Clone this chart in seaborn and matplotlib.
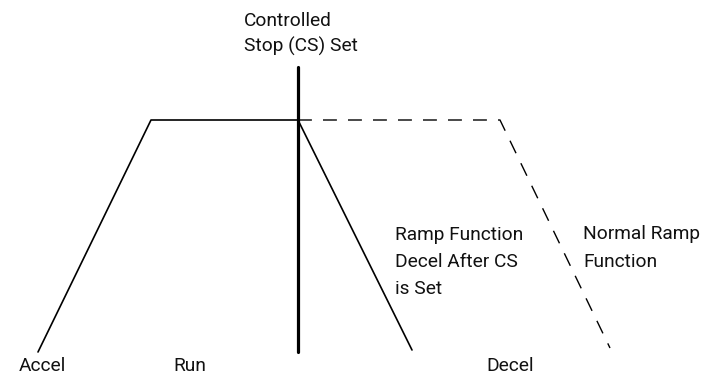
import pandas as pd
import matplotlib.pyplot as plt
import seaborn as sns

# Perfil de velocidad (x = tiempo, y = altura en px del dibujo original)
solid_x = [38, 151, 298, 412]
solid_y = [352, 120, 120, 350]
normal_x = [298, 500, 610]
normal_y = [120, 120, 348]
cs_x = [298, 298]
cs_y = [67, 352]

phase_labels = ["Accel", "Run", "Decel"]
phase_x = [42, 190, 510]

sns.set_theme(style="white")
plt.rcParams['font.family'] = ['Roboto', 'DejaVu Sans']

fig = plt.figure(figsize=(7.04, 3.81), dpi=100)
ax = fig.add_axes([0, 0, 1, 1])

solid = pd.DataFrame({'x': solid_x, 'y': solid_y})
normal = pd.DataFrame({'x': normal_x, 'y': normal_y})
cs = pd.DataFrame({'x': cs_x, 'y': cs_y})

sns.lineplot(data=solid, x='x', y='y', sort=False, estimator=None, color='black',
             linewidth=1.2, ax=ax)
sns.lineplot(data=normal, x='x', y='y', sort=False, estimator=None, color='black',
             linewidth=1.0, linestyle=(0, (10, 8)), ax=ax)
sns.lineplot(data=cs, x='x', y='y', sort=False, estimator=None, color='black',
             linewidth=2.3, ax=ax)

fs = 13.8
tc = '#111111'
for lab, x in zip(phase_labels, phase_x):
    ax.text(x, 366, lab, ha='center', va='center', fontsize=fs, color=tc)

ax.text(244, 34, "Controlled\nStop (CS) Set", ha='left', va='center', fontsize=fs,
        linespacing=1.5, color=tc)
ax.text(395, 262, "Ramp Function\nDecel After CS\nis Set", ha='left', va='center',
        fontsize=fs, linespacing=1.65, color=tc)
ax.text(583, 248, "Normal Ramp\nFunction", ha='left', va='center', fontsize=fs,
        linespacing=1.65, color=tc)

ax.set_xlim(0, 704)
ax.set_ylim(381, 0)
ax.axis('off')

fig.savefig("out.png", dpi=100)
